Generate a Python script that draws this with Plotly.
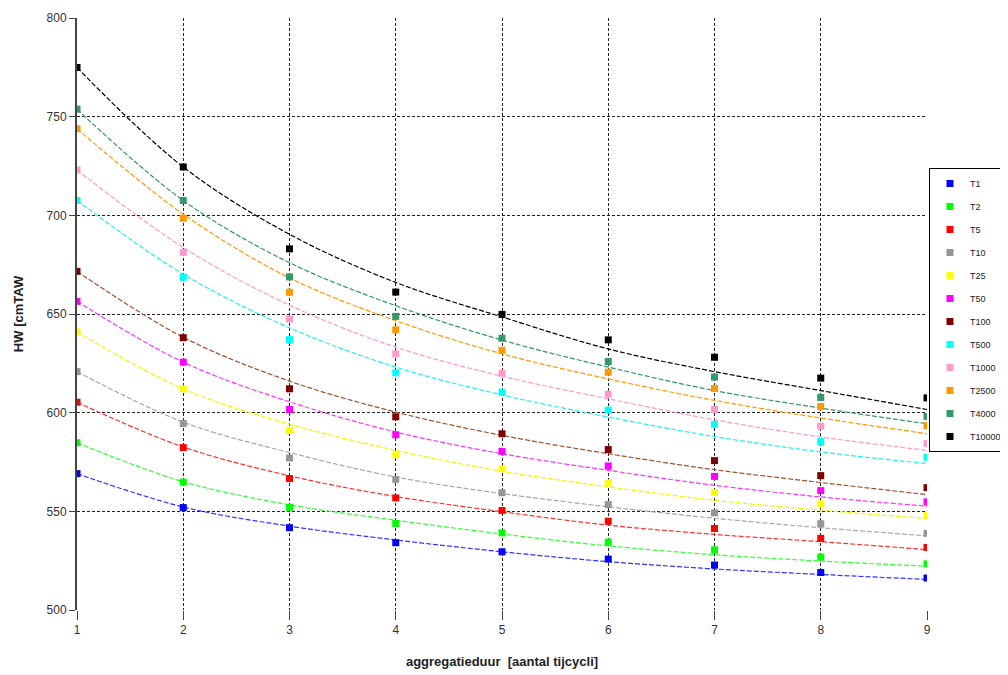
import plotly.graph_objects as go

x_vals = [1, 2, 3, 4, 5, 6, 7, 8, 9]

series_names = ["T1", "T2", "T5", "T10", "T25", "T50", "T100", "T500",
                "T1000", "T2500", "T4000", "T10000"]
series_colors = ["#0000FF", "#00FF00", "#FF0000", "#969696", "#FFFF00", "#FF00FF",
                 "#800000", "#00FFFF", "#FF99CC", "#FF9900", "#339966", "#000000"]
line_colors = ["#3333FF", "#33FF33", "#FF3333", "#A8A8A8", "#F5F500", "#FF33FF",
               "#A0522D", "#22F0F0", "#FF99CC", "#FF9900", "#339966", "#000000"]

# observed points (markers)
T1 = [569.1, 551.9, 541.7, 534.1, 529.5, 525.8, 522.8, 519.0, 516.2]
T2 = [584.8, 564.8, 552.0, 543.8, 539.1, 534.4, 530.5, 526.8, 523.4]
T5 = [605.3, 582.3, 566.6, 556.8, 550.4, 545.0, 541.3, 536.3, 531.7]
T10 = [620.8, 594.5, 577.0, 566.2, 559.4, 553.4, 549.2, 543.7, 538.8]
T25 = [641.0, 612.1, 591.0, 578.7, 571.6, 564.4, 559.5, 553.8, 547.9]
T50 = [656.4, 625.6, 601.6, 588.8, 580.4, 573.0, 567.7, 560.5, 554.8]
T100 = [671.6, 638.0, 612.1, 597.9, 589.3, 581.3, 575.7, 568.1, 562.0]
T500 = [707.5, 668.6, 637.0, 620.2, 610.4, 601.3, 594.1, 585.4, 577.4]
T1000 = [723.0, 681.2, 647.5, 629.8, 620.0, 609.4, 601.6, 593.2, 584.4]
T2500 = [743.9, 698.5, 661.0, 642.0, 631.6, 620.5, 612.3, 603.1, 593.5]
T4000 = [753.8, 707.5, 668.8, 648.8, 637.7, 625.9, 618.0, 607.7, 598.1]
T10000 = [774.9, 724.5, 683.0, 661.1, 649.8, 636.9, 628.1, 617.5, 607.5]

# trend curves
T1_fit = [569.1, 552.2, 542.5, 535.5, 529.5, 524.5, 520.8, 518.0, 515.5]
T2_fit = [584.8, 565.0, 553.3, 545.5, 538.5, 532.5, 528.0, 524.8, 522.2]
T5_fit = [605.3, 582.6, 568.0, 557.5, 549.8, 543.0, 538.3, 534.6, 530.6]
T10_fit = [620.8, 595.2, 579.8, 567.4, 559.0, 552.3, 546.5, 541.7, 537.6]
T25_fit = [641.0, 612.0, 594.2, 580.9, 570.3, 562.4, 555.6, 550.6, 546.4]
T50_fit = [656.4, 625.6, 605.5, 590.2, 579.2, 570.8, 563.2, 557.3, 552.6]
T100_fit = [671.6, 638.2, 616.0, 600.3, 588.5, 579.2, 571.1, 564.6, 558.5]
T500_fit = [707.5, 670.2, 643.0, 623.1, 609.0, 597.8, 587.9, 580.1, 574.2]
T1000_fit = [723.0, 683.7, 654.5, 633.2, 618.5, 607.0, 596.4, 587.7, 580.9]
T2500_fit = [743.9, 700.6, 668.3, 646.6, 629.8, 617.1, 606.2, 597.3, 589.3]
T4000_fit = [753.8, 707.5, 676.0, 654.2, 636.8, 623.1, 611.2, 602.3, 594.4]
T10000_fit = [774.9, 724.5, 690.4, 666.0, 648.5, 632.3, 620.8, 611.2, 601.6]

y_ticks = [500, 550, 600, 650, 700, 750, 800]

points = [T1, T2, T5, T10, T25, T50, T100, T500, T1000, T2500, T4000, T10000]
fits = [T1_fit, T2_fit, T5_fit, T10_fit, T25_fit, T50_fit, T100_fit, T500_fit,
        T1000_fit, T2500_fit, T4000_fit, T10000_fit]

fig = go.Figure()
for name, lcol, fit in zip(series_names, line_colors, fits):
    fig.add_trace(go.Scatter(
        x=x_vals, y=fit, mode="lines",
        line=dict(color=lcol, width=1.2, dash="5px,2px", shape="spline"),
        showlegend=False, legendgroup=name, hoverinfo="skip"))
for name, col, pts in zip(series_names, series_colors, points):
    fig.add_trace(go.Scatter(
        x=x_vals, y=pts, mode="markers", name=name, legendgroup=name,
        marker=dict(symbol="square", size=7, color=col, line=dict(width=0))))

font_family = "Liberation Sans, Arial, sans-serif"

# page body has an 8px margin: figure is 1000x667 placed at (8, 8)
fig.update_layout(
    width=1000, height=667,
    margin=dict(l=69, r=81, t=10, b=65, autoexpand=False),
    paper_bgcolor="white", plot_bgcolor="white",
    font=dict(family=font_family, size=12, color="#222222"),
    showlegend=True,
    legend=dict(
        x=1.0941, y=0.7466, xanchor="right", yanchor="top",
        bordercolor="#000000", borderwidth=1, bgcolor="white",
        font=dict(family=font_family, size=9, color="#222222"),
        tracegroupgap=4, itemwidth=30,
    ),
    xaxis=dict(
        range=[1, 9], tickvals=x_vals, ticktext=[str(v) for v in x_vals],
        showgrid=True, gridcolor="#222222", gridwidth=1, griddash="3px,2px",
        showline=False, zeroline=False,
        ticks="outside", ticklen=9, tickcolor="#444444", tickwidth=1,
        tickfont=dict(size=12, color="#333333"),
        title=dict(text="<b>aggregatieduur  [aantal tijcycli]</b>",
                   font=dict(size=13, color="#222222"), standoff=20),
    ),
    yaxis=dict(
        range=[500, 800], tickvals=y_ticks, ticktext=[str(v) for v in y_ticks],
        showgrid=True, gridcolor="#222222", gridwidth=1, griddash="3px,2px",
        showline=True, linecolor="#444444", linewidth=2,
        zeroline=False,
        ticks="outside", ticklen=6, tickcolor="#444444", tickwidth=1,
        tickfont=dict(size=12, color="#333333"),
        title=dict(text="<b>HW [cmTAW</b>", font=dict(size=13, color="#222222"), standoff=20),
    ),
)

fig.write_html("out.html")
